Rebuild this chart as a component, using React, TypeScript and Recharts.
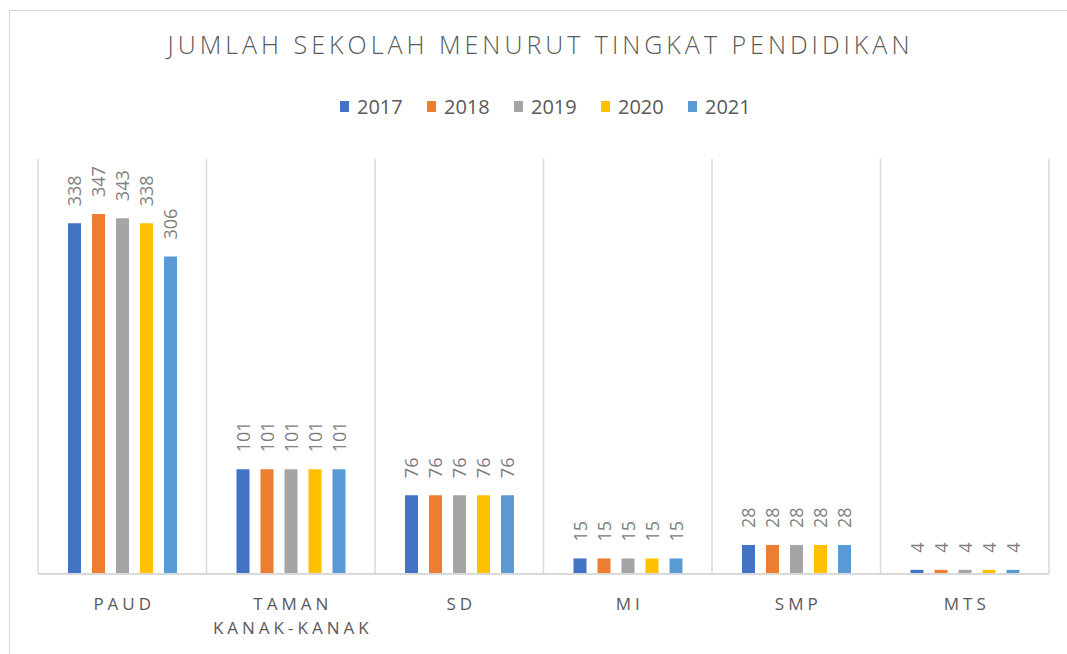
import { BarChart, Bar, XAxis, YAxis, CartesianGrid, LabelList } from 'recharts';

const categories = ['PAUD', 'TAMAN KANAK-KANAK', 'SD', 'MI', 'SMP', 'MTS'];
const years = ['2017', '2018', '2019', '2020', '2021'];
const colors = ['#4472C4', '#ED7D31', '#A5A5A5', '#FFC000', '#5B9BD5'];

const values2017 = [338, 101, 76, 15, 28, 4];
const values2018 = [347, 101, 76, 15, 28, 4];
const values2019 = [343, 101, 76, 15, 28, 4];
const values2020 = [338, 101, 76, 15, 28, 4];
const values2021 = [306, 101, 76, 15, 28, 4];

const series = [values2017, values2018, values2019, values2020, values2021];

const data = categories.map((name, i) => {
  const row: Record<string, string | number> = { name };
  years.forEach((y, j) => {
    row[y] = series[j][i];
  });
  return row;
});

const FONT = '"Open Sans", "Noto Sans", sans-serif';

function ValueLabel(props: any) {
  const { x, y, width, value } = props;
  const cx = x + width / 2;
  const ty = y - 17;
  return (
    <text
      x={cx}
      y={ty}
      transform={`rotate(-90, ${cx}, ${ty})`}
      textAnchor="start"
      dominantBaseline="central"
      fontSize={18}
      fontFamily={FONT}
      fill="#808080"
    >
      {value}
    </text>
  );
}

function CategoryTick(props: any) {
  const { x, y, payload } = props;
  const words: string[] = payload.value === 'TAMAN KANAK-KANAK' ? ['TAMAN', 'KANAK-KANAK'] : [payload.value];
  return (
    <text
      x={x + 2}
      y={y + 36}
      textAnchor="middle"
      fontSize={17}
      fontFamily={FONT}
      fill="#595959"
      letterSpacing={4}
    >
      {words.map((w, i) => (
        <tspan key={w} x={x + 2} dy={i === 0 ? 0 : 24}>
          {w}
        </tspan>
      ))}
    </text>
  );
}

export default function App() {
  return (
    <div style={{ position: 'absolute', left: 0, top: 0, width: 1067, height: 654, background: '#fff', overflow: 'hidden' }}>
      <div
        style={{
          position: 'absolute',
          left: 9,
          top: 10,
          width: 1100,
          height: 700,
          borderLeft: '1px solid #d9d9d9',
          borderTop: '1px solid #d9d9d9',
        }}
      />
      <div
        style={{
          position: 'absolute',
          left: 0,
          top: 27,
          width: 1081,
          textAlign: 'center',
          fontFamily: FONT,
          fontWeight: 300,
          fontSize: 25,
          letterSpacing: 4,
          color: '#595959',
          whiteSpace: 'nowrap',
        }}
      >
        JUMLAH SEKOLAH MENURUT TINGKAT PENDIDIKAN
      </div>
      <div
        style={{
          position: 'absolute',
          left: 340,
          top: 93,
          display: 'flex',
          fontFamily: FONT,
          fontSize: 20,
          color: '#595959',
        }}
      >
        {years.map((y, i) => (
          <div key={y} style={{ display: 'flex', alignItems: 'center', width: 87 }}>
            <span style={{ display: 'inline-block', width: 9, height: 11, background: colors[i], marginRight: 8 }} />
            <span>{y}</span>
          </div>
        ))}
      </div>
      <div style={{ position: 'absolute', left: 0, top: 0 }}>
        <BarChart
          width={1067}
          height={654}
          data={data}
          margin={{ top: 159, left: 38, right: 18, bottom: 0 }}
          barSize={13}
          barGap={11}
        >
          <CartesianGrid
            horizontal={false}
            stroke="#d9d9d9"
            strokeWidth={1.5}
            verticalCoordinatesGenerator={({ offset }: any) =>
              categories.concat(['']).map((_, i) => offset.left + (i * offset.width) / categories.length)
            }
          />
          <XAxis
            dataKey="name"
            height={80}
            axisLine={{ stroke: '#d9d9d9', strokeWidth: 2 }}
            tickLine={false}
            tickSize={0}
            tickMargin={0}
            interval={0}
            tick={<CategoryTick />}
          />
          <YAxis hide domain={[0, 400]} />
          {years.map((y, i) => (
            <Bar key={y} dataKey={y} fill={colors[i]} isAnimationActive={false}>
              <LabelList dataKey={y} content={<ValueLabel />} />
            </Bar>
          ))}
        </BarChart>
      </div>
    </div>
  );
}
